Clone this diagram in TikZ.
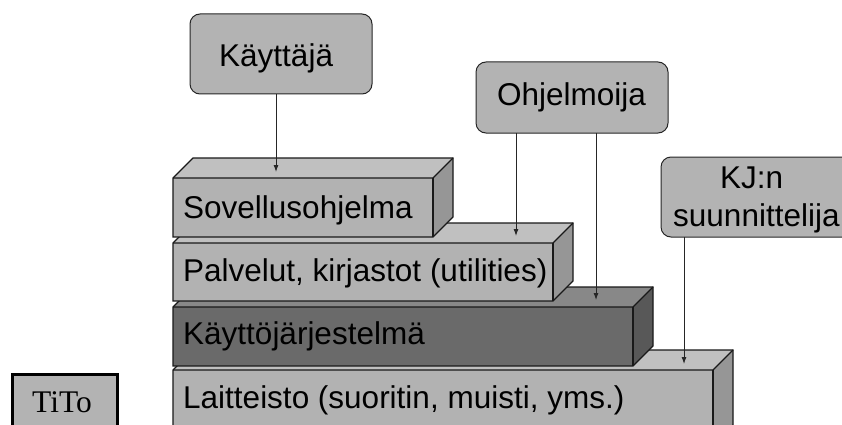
\documentclass[tikz,border=0pt]{standalone}
\usepackage{fontspec}
\setsansfont{Liberation Sans}
\setmainfont{Liberation Serif}
\usetikzlibrary{arrows.meta}
\definecolor{lfront}{HTML}{B2B2B2}
\definecolor{ltop}{HTML}{C0C0C0}
\definecolor{lside}{HTML}{969696}
\definecolor{dfront}{HTML}{6A6A6A}
\definecolor{dtop}{HTML}{888888}
\definecolor{dside}{HTML}{585858}
\definecolor{boxfill}{HTML}{B3B3B3}
\tikzset{
  big/.style={font=\sffamily\fontsize{31.5}{37}\selectfont, inner sep=0pt, anchor=base west},
  actor/.style={draw=black!85, line width=1pt, fill=boxfill, rounded corners=10pt},
  arr/.style={-{Latex[length=7pt,width=5pt]}, line width=0.9pt, black!85},
  edge/.style={draw=black!90, line width=1.1pt, line join=miter}
}
% slab: x1 (front left), y1 (front top), x2 (front right), y2 (bottom), front, top, side colours
\newcommand\myslab[7]{%
  \fill[#6] (#1,#2) -- (#1+20,#2-20) -- (#3+20,#2-20) -- (#3,#2) -- cycle;
  \fill[#7] (#3,#2) -- (#3+20,#2-20) -- (#3+20,#4-20) -- (#3,#4) -- cycle;
  \fill[#5] (#1,#2) rectangle (#3,#4);
  \draw[edge] (#1,#4) -- (#1,#2) -- (#1+20,#2-20) -- (#3+20,#2-20) -- (#3+20,#4-20) -- (#3,#4) -- cycle;
  \draw[edge] (#1,#2) -- (#3,#2) -- (#3+20,#2-20);
  \draw[edge] (#3,#2) -- (#3,#4);
}
\begin{document}
\begin{tikzpicture}[x=1pt,y=-1pt]
\useasboundingbox (0,0) rectangle (842,425);
\clip (0,0) rectangle (842,425);
% blocks, bottom up
\myslab{173}{370}{713}{445}{lfront}{ltop}{lside}
\myslab{173}{307}{633}{366}{dfront}{dtop}{dside}
\myslab{173}{243}{553}{301}{lfront}{ltop}{lside}
\myslab{173}{178}{433}{237}{lfront}{ltop}{lside}
\node[big] (sov) at (183,218) {Sovellusohjelma};
\node[big] (pal) at (183,281) {Palvelut, kirjastot (utilities)};
\node[big] (kjs) at (183,344) {Käyttöjärjestelmä};
\node[big] (lai) at (183,408) {Laitteisto (suoritin, muisti, yms.)};
% actors
\draw[actor] (190,14) rectangle (372,94);
\node[big] (kay) at (219,67) {Käyttäjä};
\draw[actor] (476,62) rectangle (668,133);
\node[big] (ohj) at (497,106) {Ohjelmoija};
\draw[actor] (661,157) rectangle (870,237);
\node[big] (kjn) at (720,188) {KJ:n};
\node[big] (suu) at (673,226) {suunnittelija};
% connectors
\coordinate (k0) at (276,94);  \coordinate (k1) at (276,172);
\coordinate (o0) at (516,133); \coordinate (o1) at (516,236);
\coordinate (p0) at (596,133); \coordinate (p1) at (596,300);
\coordinate (j0) at (684,237); \coordinate (j1) at (684,364);
\draw[arr] (k0) -- (k1);
\draw[arr] (o0) -- (o1);
\draw[arr] (p0) -- (p1);
\draw[arr] (j0) -- (j1);
% TiTo
\draw[line width=3pt, fill=boxfill] (12,374) rectangle (117,440);
\node[font=\rmfamily\fontsize{31.5}{36}\selectfont, inner sep=0pt, anchor=base] (tito) at (62,412) {TiTo};
\end{tikzpicture}
\end{document}
